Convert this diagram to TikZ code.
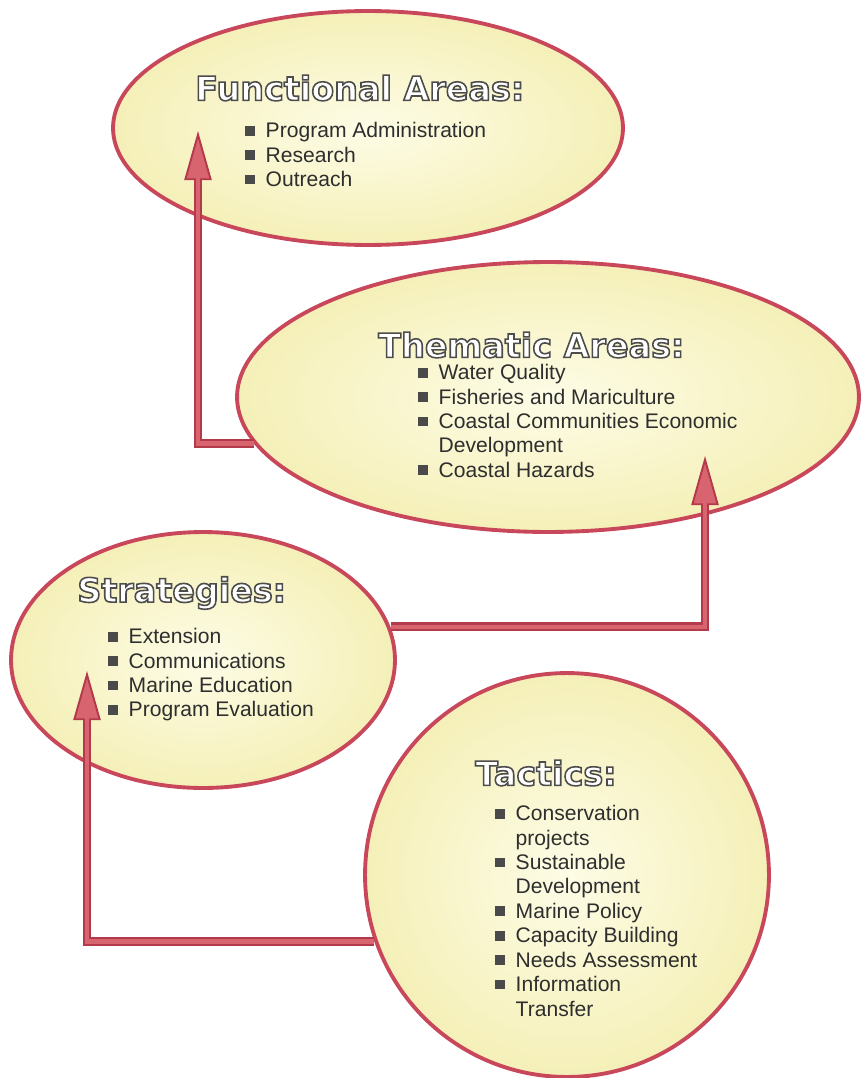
\documentclass[tikz,border=0pt]{standalone}
\usepackage{fontspec}
\setmainfont{Liberation Sans}
\newfontfamily\titlefont{DejaVu Sans}
\usetikzlibrary{shapes.geometric, positioning, arrows.meta}

\definecolor{rimred}{HTML}{C8475A}
\definecolor{arrowdark}{HTML}{B23A4A}
\definecolor{arrowfill}{HTML}{D8646F}
\definecolor{paleyellow}{HTML}{FDFCE6}
\definecolor{deepyellow}{HTML}{F5F0B8}
\definecolor{bulletgray}{HTML}{4A4A4A}
\definecolor{textgray}{HTML}{2E2E2E}

% square bullet and an empty slot of the same width
\newcommand{\bul}{\textcolor{bulletgray}{\rule[1.2pt]{5.6pt}{5.6pt}}\hspace{6pt}}
\newcommand{\nobul}{\hphantom{\bul}}
% white letters with a grey rim
\newcommand{\rimtext}[1]{\special{pdf:code q 0.3 0.3 0.3 RG 0.9 w 2 Tr}#1\special{pdf:code Q}}

\tikzset{
area/.style={ellipse, draw=rimred, line width=2.2pt, inner sep=0pt, inner color=paleyellow, outer color=deepyellow}, % the yellow bubbles
heading/.style={font=\titlefont\bfseries\fontsize{19}{22}\selectfont, text=white, inner sep=0pt}, % bubble titles
items/.style={font=\fontsize{12}{13.9}\selectfont, text=textgray, align=left, inner sep=0pt}, % bullet lists
link/.style={draw=arrowdark, line width=5.1pt, -{Triangle[length=28pt, width=15.5pt, line width=1.1pt, fill=arrowfill]},
  postaction={draw=arrowfill, line width=2.6pt, arrows=-, shorten >=27pt}}, % outlined red arrows
}

\begin{document}
\begin{tikzpicture}[x=0.02cm, y=-0.02cm]
\useasboundingbox (0,0) rectangle (860,1078);

% bubbles
\node[area, minimum width=10.2cm, minimum height=4.68cm] (func) at (368,128) {};
\node[area, minimum width=12.44cm, minimum height=5.4cm] (them) at (548,397) {};
\node[area, minimum width=7.68cm, minimum height=5.12cm] (strat) at (203,660) {};
\node[area, circle, minimum size=8.08cm] (tact) at (567,875) {};

% titles
\node[heading, anchor=west] (functitle) at (195,88) {\rimtext{Functional Areas:}};
\node[heading, anchor=west] (themtitle) at (378,345) {\rimtext{Thematic Areas:}};
\node[heading, anchor=west] (strattitle) at (77,593) {\rimtext{Strategies:}};
\node[heading, anchor=west] (tacttitle) at (475,773) {\rimtext{Tactics:}};

% lists
\node[items, anchor=north west] (funclist) at (245,122) {\bul Program Administration\\ \bul Research\\ \bul Outreach};
\node[items, anchor=north west] (themlist) at (418,364) {\bul Water Quality\\ \bul Fisheries and Mariculture\\ \bul Coastal Communities Economic\\ \nobul Development\\ \bul Coastal Hazards};
\node[items, anchor=north west] (stratlist) at (108,628) {\bul Extension\\ \bul Communications\\ \bul Marine Education\\ \bul Program Evaluation};
\node[items, anchor=north west] (tactlist) at (495,805) {\bul Conservation\\ \nobul projects\\ \bul Sustainable\\ \nobul Development\\ \bul Marine Policy\\ \bul Capacity Building\\ \bul Needs Assessment\\ \bul Information\\ \nobul Transfer};

% arrow ends
\coordinate (funcin) at (198,131);
\coordinate (themin) at (705,456);
\coordinate (stratin) at (87,671);

\draw[link] (them.189) -| (funcin);
\draw[link] (strat.10) -| (themin);
\draw[link] (tact.199) -| (stratin);
\end{tikzpicture}
\end{document}
